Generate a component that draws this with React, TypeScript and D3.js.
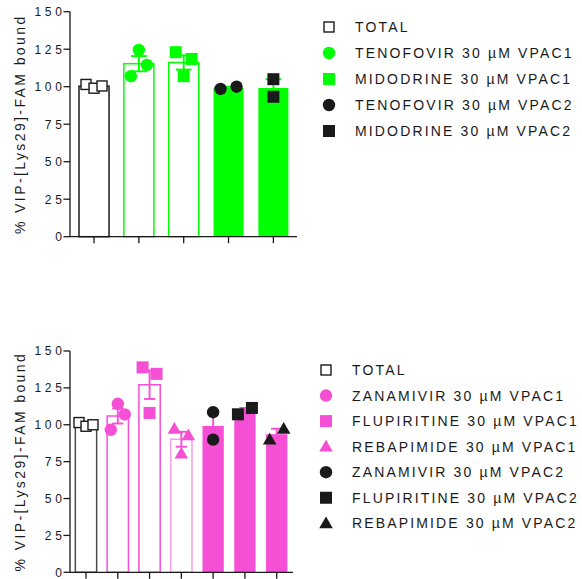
import * as d3 from "d3";

// ---- data ----
const yTicks = [0, 25, 50, 75, 100, 125, 150];
const yLabel = "% VIP-[Lys29]-FAM bound";

const topGroups = [
  "TOTAL",
  "TENOFOVIR 30 µM VPAC1",
  "MIDODRINE 30 µM VPAC1",
  "TENOFOVIR 30 µM VPAC2",
  "MIDODRINE 30 µM VPAC2",
];
// replicate values, listed left-to-right as the dots sit in the picture
const topValues = [
  [101.5, 99, 100.5],
  [107, 124.5, 114.5],
  [123, 107, 118.5],
  [98.5, 100],
  [105, 93.3],
];

const bottomGroups = [
  "TOTAL",
  "ZANAMIVIR 30 µM VPAC1",
  "FLUPIRITINE 30 µM VPAC1",
  "REBAPIMIDE 30 µM VPAC1",
  "ZANAMIVIR 30 µM VPAC2",
  "FLUPIRITINE 30 µM VPAC2",
  "REBAPIMIDE 30 µM VPAC2",
];
const bottomValues = [
  [101.5, 99, 100],
  [96.6, 114.2, 107],
  [138.9, 108, 134.5],
  [97.3, 80.4, 92.8],
  [108.5, 89.9],
  [107.1, 111.4],
  [89.9, 97.3],
];

// ---- styles ----
const GREEN = "#00ff00";
const PINK = "#f54fd6";
const INK = "#1a1a1a";
const FONT = "'Liberation Sans', Arial, Helvetica, sans-serif";

type Style = { shape: string; marker: string; bar: string; filled: boolean };

const topStyles: Style[] = [
  { shape: "open", marker: INK, bar: INK, filled: false },
  { shape: "circle", marker: GREEN, bar: GREEN, filled: false },
  { shape: "square", marker: GREEN, bar: GREEN, filled: false },
  { shape: "circle", marker: INK, bar: GREEN, filled: true },
  { shape: "square", marker: INK, bar: GREEN, filled: true },
];
const bottomStyles: Style[] = [
  { shape: "open", marker: INK, bar: "#4a4a4a", filled: false },
  { shape: "circle", marker: PINK, bar: PINK, filled: false },
  { shape: "square", marker: PINK, bar: PINK, filled: false },
  { shape: "triangle", marker: PINK, bar: "#f7a0e6", filled: false },
  { shape: "circle", marker: INK, bar: PINK, filled: true },
  { shape: "square", marker: INK, bar: PINK, filled: true },
  { shape: "triangle", marker: INK, bar: PINK, filled: true },
];

function Marker({ shape, color, x, y }: { shape: string; color: string; x: number; y: number }) {
  if (shape === "open")
    return <rect x={x - 5} y={y - 5} width={10} height={10} fill="#fff" stroke={color} strokeWidth={1.4} />;
  if (shape === "circle") return <circle cx={x} cy={y} r={6.2} fill={color} />;
  if (shape === "square") return <rect x={x - 6} y={y - 6} width={12} height={12} fill={color} />;
  const tri = d3.symbol().type(d3.symbolTriangle).size(80)();
  return <path d={tri || ""} transform={`translate(${x},${y + 1})`} fill={color} />;
}

type PanelProps = {
  groups: string[];
  values: number[][];
  styles: Style[];
  y150: number;
  y0: number;
  band: [number, number];
  axisEnd: number;
  spread: number;
  legendX: number;
  legendY: number;
  legendStep: number;
};

function Panel(p: PanelProps) {
  const y = d3.scaleLinear().domain([0, 150]).range([p.y0, p.y150]);
  const x = d3
    .scaleBand<number>()
    .domain(p.groups.map((_, i) => i))
    .range(p.band)
    .paddingInner(0.33)
    .paddingOuter(0.165);
  const bw = x.bandwidth();
  const axisX = 70;
  const lsTick = 3.8;
  const labelY = (p.y0 + p.y150) / 2;

  return (
    <g>
      {/* bars, error bars, dots */}
      {p.values.map((vals, i) => {
        const st = p.styles[i];
        const m = d3.mean(vals) as number;
        const se = (d3.deviation(vals) as number) / Math.sqrt(vals.length);
        const cx = (x(i) as number) + bw / 2;
        const capW = bw * 0.53;
        let offs: number[];
        if (vals.length === 3) offs = [-p.spread, 0, p.spread];
        else {
          const gap = Math.abs(y(vals[0]) - y(vals[1]));
          offs = gap < 12 ? [-p.spread, p.spread] : [0, 0];
        }
        const errColor = st.filled ? st.bar : st.shape === "open" ? INK : st.marker;
        return (
          <g key={i}>
            <rect
              x={x(i)}
              y={y(m)}
              width={bw}
              height={y(0) - y(m)}
              fill={st.filled ? st.bar : "#fff"}
              stroke={st.bar}
              strokeWidth={st.filled ? 0 : 1.5}
            />
            <g stroke={errColor} strokeWidth={1.9}>
              <line x1={cx} x2={cx} y1={y(m - se)} y2={y(m + se)} />
              <line x1={cx - capW / 2} x2={cx + capW / 2} y1={y(m + se)} y2={y(m + se)} />
              <line x1={cx - capW / 2} x2={cx + capW / 2} y1={y(m - se)} y2={y(m - se)} />
            </g>
            {vals.map((v, j) => (
              <Marker key={j} shape={st.shape} color={st.marker} x={cx + offs[j]} y={y(v)} />
            ))}
          </g>
        );
      })}

      {/* y axis */}
      <line x1={axisX} x2={axisX} y1={y(0)} y2={y(150)} stroke={INK} strokeWidth={1.3} />
      {yTicks.map((t) => (
        <g key={t}>
          <line x1={axisX - 6.5} x2={axisX} y1={y(t)} y2={y(t)} stroke={INK} strokeWidth={1.3} />
          <text
            x={axisX - 8 + lsTick}
            y={y(t) + 4.3}
            textAnchor="end"
            fontSize={12}
            letterSpacing={lsTick}
            fill={INK}
            fontFamily={FONT}
          >
            {t}
          </text>
        </g>
      ))}
      <text
        transform={`translate(25,${labelY}) rotate(-90)`}
        textAnchor="middle"
        fontSize={14}
        letterSpacing={2.4}
        fill={INK}
        fontFamily={FONT}
      >
        {yLabel}
      </text>

      {/* x axis */}
      <line x1={axisX} x2={p.axisEnd} y1={y(0)} y2={y(0)} stroke={INK} strokeWidth={1.3} />
      {p.groups.map((_, i) => {
        const cx = (x(i) as number) + bw / 2;
        return <line key={i} x1={cx} x2={cx} y1={y(0)} y2={y(0) + 6.5} stroke={INK} strokeWidth={1.3} />;
      })}

      {/* legend */}
      {p.groups.map((g, i) => {
        const st = p.styles[i];
        const ly = p.legendY + i * p.legendStep;
        return (
          <g key={g}>
            <Marker shape={st.shape} color={st.shape === "open" ? INK : st.marker} x={p.legendX} y={ly} />
            <text
              x={p.legendX + 26}
              y={ly + 5}
              fontSize={14}
              letterSpacing={2.15}
              fill={INK}
              fontFamily={FONT}
            >
              {g}
            </text>
          </g>
        );
      })}
    </g>
  );
}

export default function App() {
  return (
    <svg
      width={582}
      height={579}
      viewBox="0 0 582 579"
      style={{ position: "absolute", left: 0, top: 0, background: "#fff" }}
    >
      <Panel
        groups={topGroups}
        values={topValues}
        styles={topStyles}
        y150={11.7}
        y0={236.7}
        band={[71.6, 295.8]}
        axisEnd={297}
        spread={8}
        legendX={329}
        legendY={27}
        legendStep={26}
      />
      <Panel
        groups={bottomGroups}
        values={bottomValues}
        styles={bottomStyles}
        y150={351}
        y0={572.3}
        band={[70.1, 292.6]}
        axisEnd={293}
        spread={7}
        legendX={326}
        legendY={370}
        legendStep={25.55}
      />
    </svg>
  );
}
